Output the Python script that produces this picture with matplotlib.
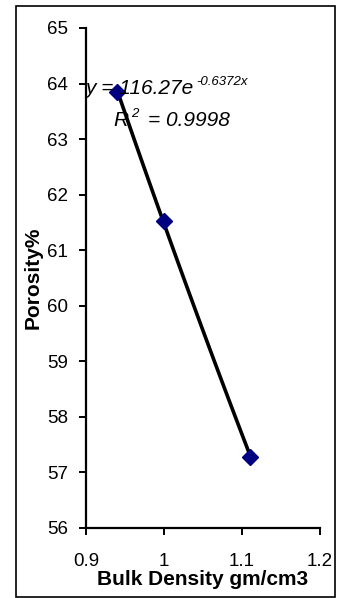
import numpy as np
import matplotlib
matplotlib.use("Agg")
import matplotlib.pyplot as plt
from matplotlib.patches import Rectangle

# data
bulk_density = [0.94, 1.00, 1.11]
porosity = [63.85, 61.52, 57.27]

# exponential trendline shown on the chart
TREND_A = 116.27
TREND_B = -0.6372

x_ticks = [0.9, 1.0, 1.1, 1.2]
x_tick_labels = ["0.9", "1", "1.1", "1.2"]
y_ticks = [56, 57, 58, 59, 60, 61, 62, 63, 64, 65]

plt.rcParams["font.family"] = ["Liberation Sans", "DejaVu Sans"]

W, H = 339, 598
fig = plt.figure(figsize=(W / 100, H / 100), dpi=100)
ax = fig.add_axes([86 / W, 1 - 528 / H, (320 - 86) / W, (528 - 28) / H])

# outer frame around the whole chart
fig.patches.append(Rectangle((16 / W, 1 - 597 / H), (335 - 16) / W, (597 - 6) / H,
                             transform=fig.transFigure, fill=False,
                             edgecolor="black", linewidth=1.2))

xs = np.linspace(min(bulk_density), max(bulk_density), 100)
ax.plot(xs, TREND_A * np.exp(TREND_B * xs), color="black", lw=2.6, zorder=2)
ax.plot(bulk_density, porosity, "D", color="#000080", ms=8, zorder=3)

ax.set_xlim(0.9, 1.2)
ax.set_ylim(56, 65)
ax.set_xticks(x_ticks)
ax.set_xticklabels(x_tick_labels)
ax.set_yticks(y_ticks)

for side in ("top", "right"):
    ax.spines[side].set_visible(False)
for side in ("left", "bottom"):
    ax.spines[side].set_linewidth(1.6)
ax.tick_params(axis="both", direction="out", length=5, width=1.4, labelsize=13.5)
ax.tick_params(axis="x", pad=13)
ax.tick_params(axis="y", pad=8)

ax.set_xlabel("Bulk Density gm/cm3", fontsize=15, fontweight="bold", labelpad=0)
ax.set_ylabel("Porosity%", fontsize=15, fontweight="bold", labelpad=3)

eq = ax.text(0.899, 63.81, "y = 116.27e", fontsize=15, style="italic",
             va="baseline", ha="left", zorder=4)
ax.annotate("-0.6372x", xy=(1, 0.55), xycoords=eq, xytext=(2, 0),
            textcoords="offset points", fontsize=9.5, style="italic",
            va="bottom", ha="left", zorder=4)
r2 = ax.text(0.935, 63.23, "R", fontsize=15, style="italic",
             va="baseline", ha="left", zorder=4)
ax.annotate("2", xy=(1, 0.55), xycoords=r2, xytext=(2, 0),
            textcoords="offset points", fontsize=9.5, style="italic",
            va="bottom", ha="left", zorder=4)
ax.annotate("= 0.9998", xy=(1, 0), xycoords=r2, xytext=(14, 0),
            textcoords="offset points", fontsize=15, style="italic",
            va="bottom", ha="left", zorder=4)

fig.savefig("out.png", dpi=100)
